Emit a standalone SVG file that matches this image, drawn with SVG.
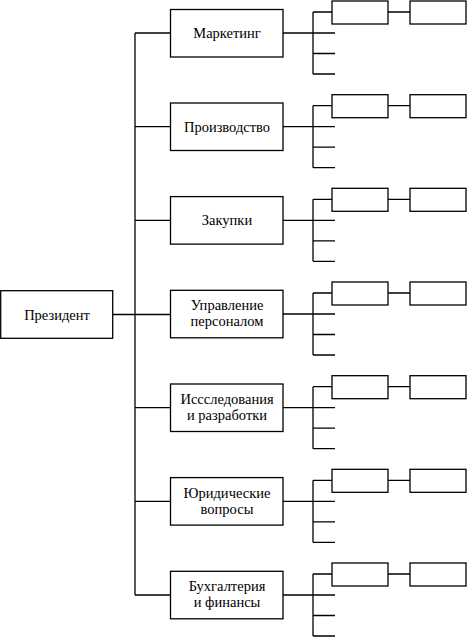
<svg xmlns="http://www.w3.org/2000/svg" width="467" height="637" viewBox="0 0 467 637">
<style>
rect{fill:#fff;stroke:#000;stroke-width:1.3}
line,path{stroke:#000;stroke-width:1.3;fill:none}
text{font-family:"Liberation Serif","Times New Roman",serif;font-size:14.5px;fill:#000;text-anchor:middle}
</style>
<defs>
<g id="sub">
<path d="M283,0H313M313,-21V41M313,-21H332M313,0H335M313,20.5H335M313,41H335M388,-21H410"/>
<rect x="332" y="-32" width="56" height="23"/>
<rect x="410" y="-32" width="56" height="23"/>
</g>
</defs>
<g id="connectors">
<path d="M135,33V595M113,314.5H170M135,33H170M135,126.7H170M135,220.3H170M135,407.7H170M135,501.3H170M135,595H170"/>
</g>
<g id="president"><rect x="0.7" y="290.7" width="112" height="47.6"/><text x="57" y="319.5">Президент</text></g>
<g id="marketing"><use href="#sub" y="33"/><rect x="170.5" y="9.5" width="112.5" height="47.5"/><text x="227" y="38">Маркетинг</text></g>
<g id="production"><use href="#sub" y="126.7"/><rect x="170.5" y="103" width="112.5" height="47.5"/><text x="227" y="131.5">Производство</text></g>
<g id="purchasing"><use href="#sub" y="220.3"/><rect x="170.5" y="196.6" width="112.5" height="47.5"/><text x="227" y="225">Закупки</text></g>
<g id="hr"><use href="#sub" y="314"/><rect x="170.5" y="290.3" width="112.5" height="47.5"/><text x="227" y="310">Управление</text><text x="227" y="326">персоналом</text></g>
<g id="rnd"><use href="#sub" y="407.7"/><rect x="170.5" y="384" width="112.5" height="47.5"/><text x="227" y="404">Иссследования</text><text x="227" y="420">и разработки</text></g>
<g id="legal"><use href="#sub" y="501.3"/><rect x="170.5" y="477.6" width="112.5" height="47.5"/><text x="227" y="497.5">Юридические</text><text x="227" y="513.5">вопросы</text></g>
<g id="finance"><use href="#sub" y="595"/><rect x="170.5" y="571.3" width="112.5" height="47.5"/><text x="227" y="591">Бухгалтерия</text><text x="227" y="607">и финансы</text></g>
</svg>
